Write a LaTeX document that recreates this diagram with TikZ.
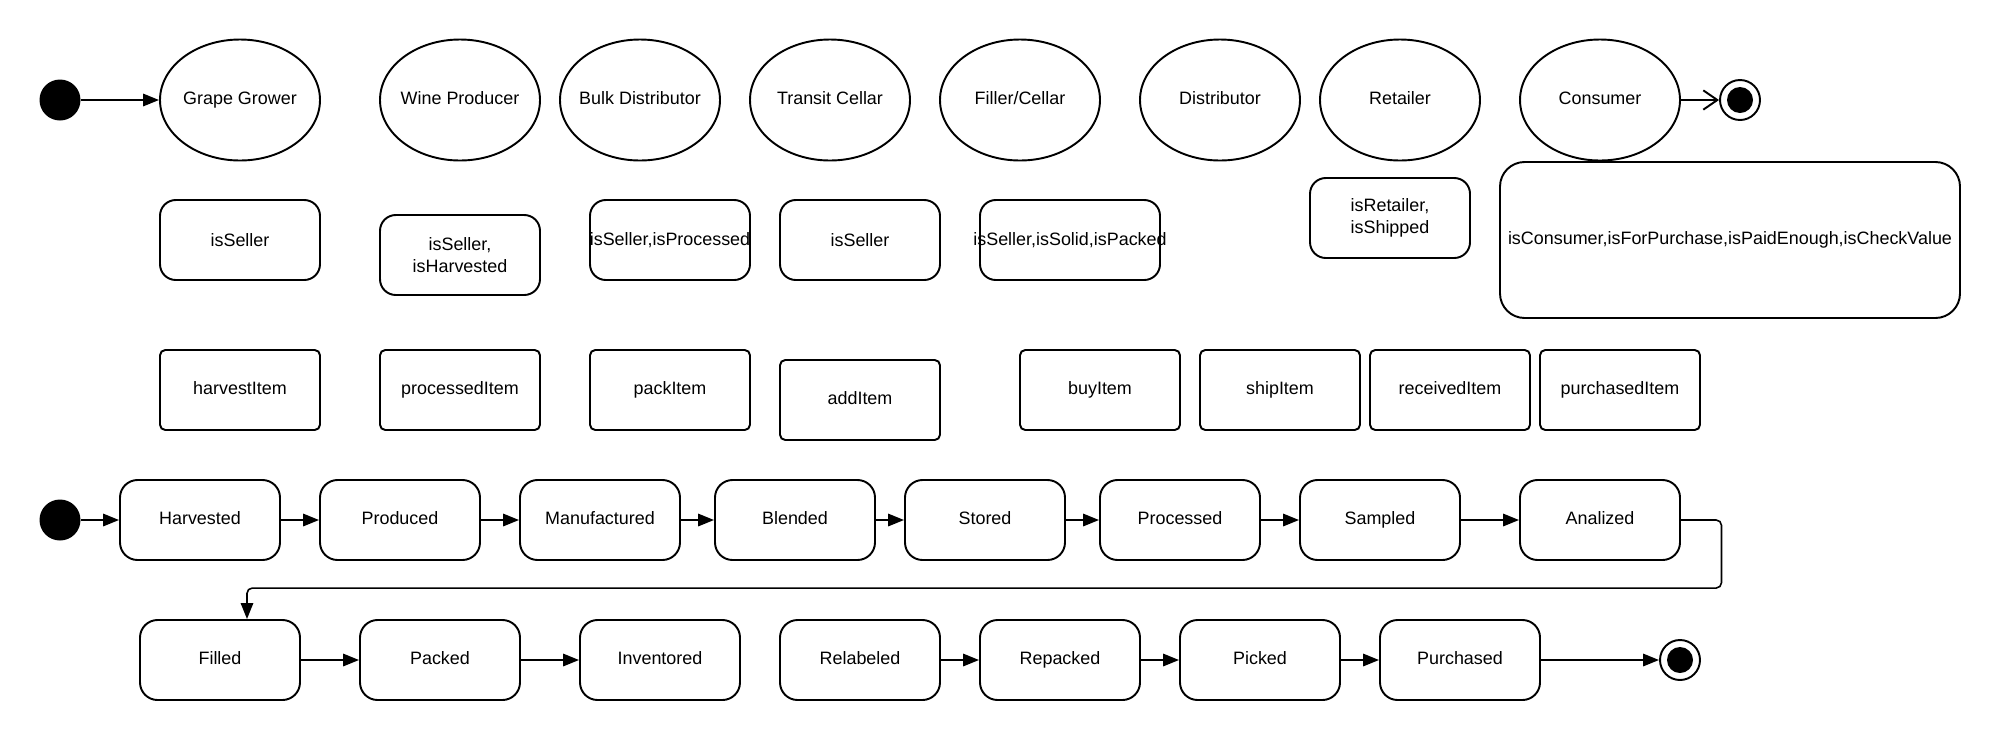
\documentclass[tikz,border=0pt]{standalone}
\usepackage{fontspec}
\setmainfont{Liberation Sans}
\usetikzlibrary{shapes.geometric, arrows.meta, calc}

\tikzset{
	actor/.style={ellipse, draw, line width=1.1pt, minimum width=3.2cm, minimum height=2.42cm, inner sep=0pt},
	cond/.style={draw, line width=1.1pt, rounded corners=9pt, minimum width=3.2cm, minimum height=1.6cm, inner sep=0pt, align=center},
	item/.style={draw, line width=1.1pt, rounded corners=3pt, minimum width=3.2cm, minimum height=1.6cm, inner sep=0pt, text height=7.4pt, text depth=2.2pt},
	stbox/.style={draw, line width=1.1pt, rounded corners=10pt, minimum width=3.2cm, minimum height=1.6cm, inner sep=0pt, text height=7.4pt, text depth=2.2pt},
	start/.style={circle, fill, minimum size=0.82cm, inner sep=0pt},
	stopring/.style={circle, draw, line width=1.1pt, minimum size=0.8cm, inner sep=0pt},
	flow/.style={-{Triangle[length=9pt,width=7pt]}, line width=1.1pt},
}

\begin{document}
\begin{tikzpicture}[font=\fontsize{10.2}{12.2}\selectfont]
	\useasboundingbox (0,0) rectangle (40,-14.8);
	% actors
	\node[start] (s0) at (1.2,-2) {};
	\foreach \x/\n/\t in {4.8/grower/Grape Grower, 9.2/producer/Wine Producer, 12.8/bulk/Bulk Distributor, 16.6/transit/Transit Cellar, 20.4/filler/{Filler/Cellar}, 24.4/distr/Distributor, 28/retailer/Retailer, 32/consumer/Consumer}
		{\node[actor, label={[text height=7.4pt, text depth=2.2pt]center:\t}] (\n) at (\x,-2) {};}
	\node[stopring] (endA) at (34.8,-2) {};
	\fill (endA.center) circle (0.26);
	% conditions
	\node[cond] (c1) at (4.8,-4.8) {isSeller};
	\node[cond] (c2) at (9.2,-5.1) {isSeller,\\isHarvested};
	\node[cond] (c3) at (13.4,-4.8) {\makebox[3.2cm]{isSeller,isProcessed}};
	\node[cond] (c4) at (17.2,-4.8) {isSeller};
	\node[cond, minimum width=3.6cm] (c5) at (21.4,-4.8) {\makebox[3.6cm]{isSeller,isSolid,isPacked}};
	\node[cond] (c6) at (27.8,-4.36) {isRetailer,\\isShipped};
	\node[cond, minimum width=9.2cm, minimum height=3.12cm, rounded corners=14pt] (c7) at (34.6,-4.8) {isConsumer,isForPurchase,isPaidEnough,isCheckValue};
	% items
	\foreach \x/\n/\t in {4.8/hi/harvestItem, 9.2/pi/processedItem, 13.4/ki/packItem, 22/bi/buyItem, 25.6/si/shipItem, 29/ri/receivedItem, 32.4/ui/purchasedItem}
		{\node[item] (\n) at (\x,-7.8) {\t};}
	\node[item] (ai) at (17.2,-8) {addItem};
	% states
	\node[start] (s1) at (1.2,-10.4) {};
	\foreach \x/\n/\t in {4/harv/Harvested, 8/prod/Produced, 12/manu/Manufactured, 15.9/blen/Blended, 19.7/stor/Stored, 23.6/proc/Processed, 27.6/samp/Sampled, 32/anal/Analized}
		{\node[stbox] (\n) at (\x,-10.4) {\t};}
	\foreach \x/\n/\t in {4.4/filled/Filled, 8.8/packed/Packed, 13.2/inv/Inventored, 17.2/relab/Relabeled, 21.2/repack/Repacked, 25.2/picked/Picked, 29.2/purch/Purchased}
		{\node[stbox] (\n) at (\x,-13.2) {\t};}
	\node[stopring] (endB) at (33.6,-13.2) {};
	\fill (endB.center) circle (0.26);
	% arrows
	\draw[flow] (s0) -- (grower);
	\draw[-{Straight Barb[length=8pt,width=11pt]}, line width=1.1pt] (consumer) -- (endA);
	\foreach \a/\b in {s1/harv, harv/prod, prod/manu, manu/blen, blen/stor, stor/proc, proc/samp, samp/anal, filled/packed, packed/inv, relab/repack, repack/picked, picked/purch, purch/endB}
		{\draw[flow] (\a) -- (\b);}
	\draw[flow, line width=0.9pt, rounded corners=3pt] (anal.east) -- ++(0.81,0) |- ($(filled.north)+(0.54,0.62)$) -- ($(filled.north)+(0.54,0)$);
\end{tikzpicture}
\end{document}
